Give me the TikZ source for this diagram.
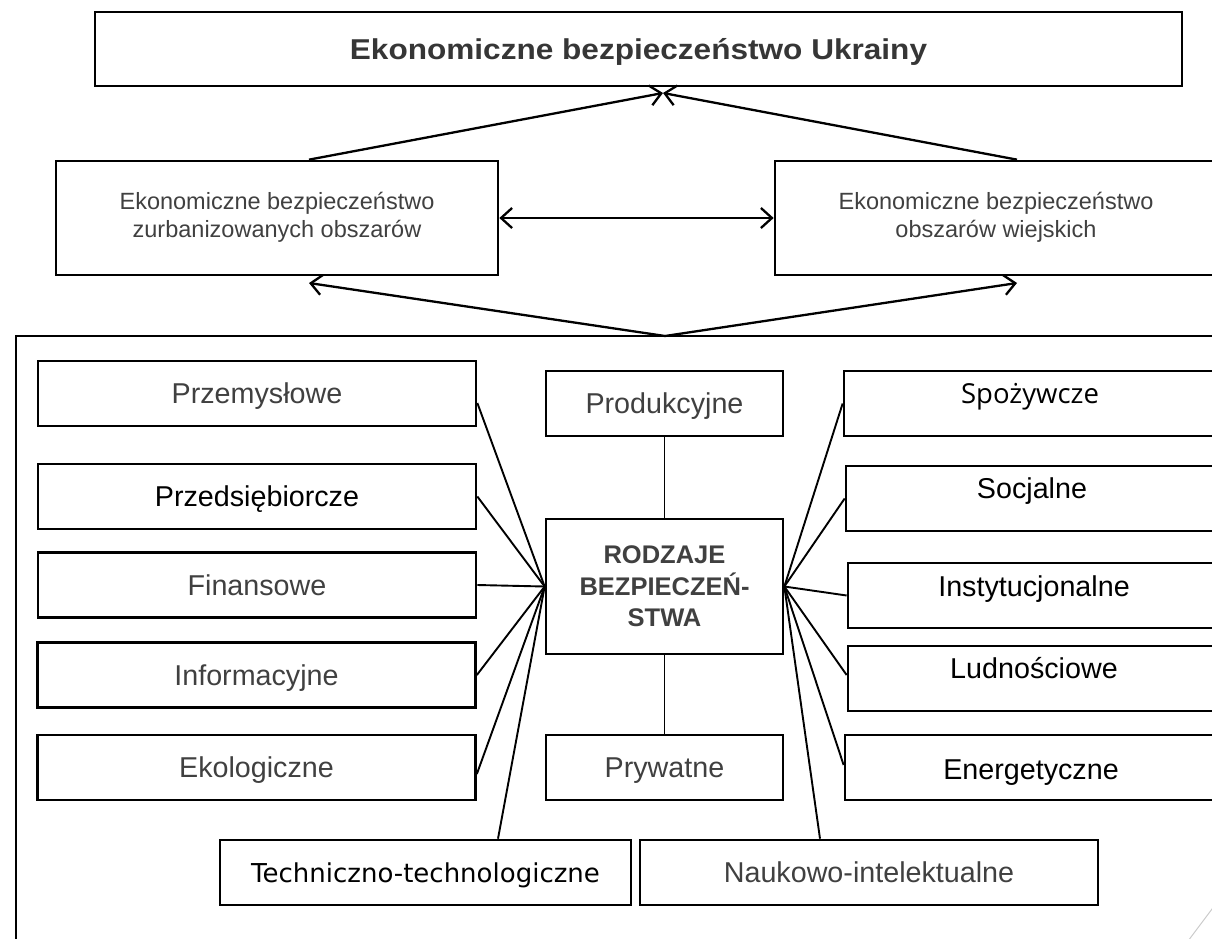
\documentclass[tikz,border=0pt]{standalone}
\usepackage{fontspec}
\setmainfont{Liberation Sans}
\newfontfamily\segfont{Open Sans}
\newfontfamily\tahfont{DejaVu Sans}
\newfontfamily\titlefont[FakeStretch=1.1]{Liberation Sans}
\usetikzlibrary{arrows.meta}
\definecolor{txtgray}{HTML}{404040}
\definecolor{titlegray}{HTML}{363636}
\begin{document}
\begin{tikzpicture}[x=1pt,y=-1pt,
  box/.style={draw, line width=2.7pt, inner sep=0pt, minimum height=65pt,
    font=\fontsize{28.7}{32}\selectfont, text height=20.5pt, text depth=0pt},
  gtxt/.style={text=txtgray},
  midbox/.style={draw, line width=2.7pt, inner sep=0pt, minimum width=442pt,
    minimum height=114pt, text=txtgray,
    font=\fontsize{23.5}{28}\selectfont},
  conn/.style={line width=1.9pt},
  arr/.style={line width=2.3pt, -{Straight Barb[length=11pt,width=20pt]}},
  darr/.style={line width=2.3pt, {Straight Barb[length=11pt,width=20pt]}-{Straight Barb[length=11pt,width=20pt]}}
]
\useasboundingbox (0,0) rectangle (1212,938);
\clip (0,0) rectangle (1212,938);

% top level
\node[box, minimum width=1087pt, minimum height=74pt, text=titlegray,
  font=\titlefont\bfseries\fontsize{28.7}{32}\selectfont] (title) at (638.5,49)
  {Ekonomiczne bezpieczeństwo Ukrainy};
\node[midbox] (urb) at (277,218) {\raisebox{-3pt}{\begin{tabular}{@{}c@{}}Ekonomiczne bezpieczeństwo\\zurbanizowanych obszarów\end{tabular}}};
\node[midbox] (wie) at (996,218) {\raisebox{-3pt}{\begin{tabular}{@{}c@{}}Ekonomiczne bezpieczeństwo\\obszarów wiejskich\end{tabular}}};

% frame
\draw[line width=2pt] (16,336) rectangle (1240,960);

% left column
\node[box, gtxt, minimum width=438pt] (prz) at (257,393.5) {Przemysłowe};
\node[box, minimum width=438pt] (prd) at (257,496.5) {Przedsiębiorcze};
\node[box, gtxt, minimum width=438pt] (fin) at (257,585) {Finansowe};
\node[box, gtxt, minimum width=438pt] (inf) at (256.5,675) {Informacyjne};
\node[box, gtxt, minimum width=438pt] (eko) at (256.5,767.5) {Ekologiczne};
\node[box, minimum width=411pt, font=\tahfont\fontsize{26}{30}\selectfont, text height=19pt]
  (tech) at (425.5,872.5) {Techniczno-technologiczne};

% centre column
\node[box, gtxt, minimum width=237pt] (prod) at (664.5,403.5) {Produkcyjne};
\node[draw, line width=2.7pt, inner sep=0pt, minimum width=237pt, minimum height=135pt,
  align=center, text=txtgray, font=\bfseries\fontsize{25.5}{31.5}\selectfont]
  (rodz) at (664.5,586.5) {RODZAJE\\BEZPIECZEŃ-\\STWA};
\node[box, gtxt, minimum width=237pt] (pryw) at (664.5,767.5) {Prywatne};
\node[box, gtxt, minimum width=458pt] (nauk) at (869,872.5) {Naukowo-intelektualne};

% right column
\node[box, minimum width=372pt, font=\segfont\fontsize{27.5}{32}\selectfont, text height=19.6pt]
  (spoz) at (1030,403.5) {\raisebox{10pt}{Spożywcze}};
\node[box, minimum width=372pt] (soc) at (1032,498.5) {\raisebox{10pt}{Socjalne}};
\node[box, minimum width=372pt] (inst) at (1034,595.5) {\raisebox{9.5pt}{Instytucjonalne}};
\node[box, minimum width=372pt] (lud) at (1034,678.5) {\raisebox{10pt}{Ludnościowe}};
\node[box, minimum width=372pt] (ener) at (1031,767.5) {\raisebox{-1.5pt}{Energetyczne}};

% connectors from the centre box
\draw[conn] (rodz.west) -- ([yshift=-9.5pt]prz.east);
\draw[conn] (rodz.west) -- (prd.east);
\draw[conn] (rodz.west) -- (fin.east);
\draw[conn] (rodz.west) -- (inf.east);
\draw[conn] (rodz.west) -- ([yshift=-6.5pt]eko.east);
\draw[conn] (rodz.west) -- ([xshift=72.5pt]tech.north);
\draw[conn] (rodz.east) -- (spoz.west);
\draw[conn] (rodz.east) -- (soc.west);
\draw[conn] (rodz.east) -- (inst.west);
\draw[conn] (rodz.east) -- ([yshift=3.5pt]lud.west);
\draw[conn] (rodz.east) -- ([yshift=2.5pt]ener.west);
\draw[conn] (rodz.east) -- ([xshift=-49pt]nauk.north);
\draw[conn] (prod.south) -- (rodz.north);
\draw[conn] (rodz.south) -- (pryw.north);

% arrows
\coordinate (tt) at (663,93);
\coordinate (fb) at (665,336);
\coordinate (bl) at (309,283);
\coordinate (br) at (1017,283);
\draw[arr] ([xshift=32pt]urb.north) -- (tt);
\draw[arr] ([xshift=21pt]wie.north) -- (tt);
\draw[darr] (urb.east) -- (wie.west);
\draw[arr] (fb) -- (bl);
\draw[arr] (fb) -- (br);

% slide decoration
\draw[black!20, line width=1pt] (1185,945) -- (1215,905);
\end{tikzpicture}
\end{document}
